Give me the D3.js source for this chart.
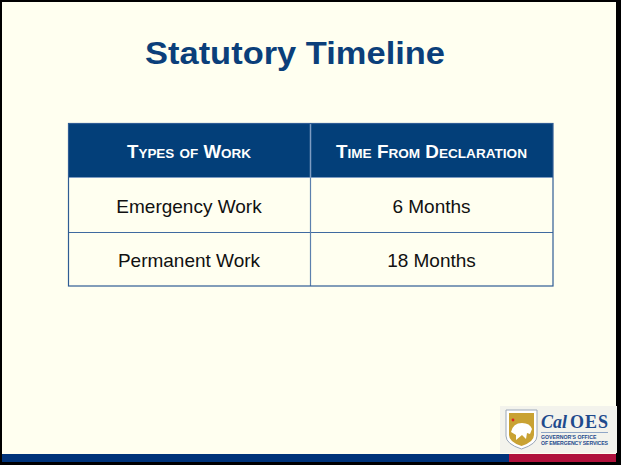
<!DOCTYPE html>
<html><head><meta charset="utf-8">
<script src="https://cdn.jsdelivr.net/npm/d3@7"></script>
<style>html,body{margin:0;padding:0;background:#fff;}svg{display:block;}</style>
</head><body>
<script>
const title = "Statutory Timeline";
const headers = ["Types of Work", "Time From Declaration"];
const workTypes = ["Emergency Work", "Permanent Work"];
const timeFromDeclaration = ["6 Months", "18 Months"];

const W = 621, H = 465;
const svg = d3.select("body").append("svg").attr("width", W).attr("height", H);

// frame & background
svg.append("rect").attr("x",0).attr("y",0).attr("width",W).attr("height",H).attr("fill","#000");
svg.append("rect").attr("x",2).attr("y",2).attr("width",614).attr("height",460).attr("fill","#FFFFF0");

// title
svg.append("text").attr("x",295).attr("y",64).attr("text-anchor","middle")
  .attr("font-family","'Liberation Sans',Arial,sans-serif").attr("font-weight","bold")
  .attr("font-size",31).attr("textLength",300).attr("lengthAdjust","spacingAndGlyphs")
  .attr("fill","#0B3F7A").text(title);

// table layout via scales
const x = d3.scaleBand().domain(d3.range(headers.length)).range([68,553]);
const colEdge = [68, 310.5, 553];
const centers = [189, 431.5];
const y = d3.scaleOrdinal().domain(["top","head","r1","bottom"]).range([123,177,232,286]);

const g = svg.append("g");
g.append("rect").attr("x",68).attr("y",y("top")).attr("width",485).attr("height",y("head")-y("top")).attr("fill","#033F79");
g.append("line").attr("x1",68).attr("x2",553).attr("y1",y("r1")+0.5).attr("y2",y("r1")+0.5).attr("stroke","#3F6AA0").attr("stroke-width",1);
g.append("line").attr("x1",colEdge[1]).attr("x2",colEdge[1]).attr("y1",y("top")).attr("y2",y("head")).attr("stroke","#7E9CC2").attr("stroke-width",1.5);
g.append("line").attr("x1",colEdge[1]).attr("x2",colEdge[1]).attr("y1",y("head")).attr("y2",y("bottom")).attr("stroke","#5C80AE").attr("stroke-width",1.2);
g.append("line").attr("x1",68).attr("x2",553).attr("y1",y("head")+0.5).attr("y2",y("head")+0.5).attr("stroke","#7E9CC2").attr("stroke-width",1);
g.append("rect").attr("x",68.5).attr("y",123.5).attr("width",484.5).attr("height",162.5)
  .attr("fill","none").attr("stroke","#2F5C94").attr("stroke-width",1.2);

const headLen = [124, 191];
g.selectAll("text.h").data(headers).enter().append("text").attr("class","h")
  .attr("x",(d,i)=>centers[i]).attr("y",158).attr("text-anchor","middle")
  .attr("font-family","'Liberation Sans',sans-serif").attr("font-weight","bold")
  .attr("font-size",18).attr("textLength",(d,i)=>headLen[i]).attr("lengthAdjust","spacingAndGlyphs")
  .attr("fill","#fff").style("font-variant","small-caps").text(d=>d);

const rows = workTypes.map((t,i)=>[t, timeFromDeclaration[i]]);
const rowBase = [213, 267];
rows.forEach((r,ri)=>{
  g.selectAll(null).data(r).enter().append("text")
    .attr("x",(d,i)=>centers[i]).attr("y",rowBase[ri]).attr("text-anchor","middle")
    .attr("font-family","'Liberation Sans',Arial,sans-serif").attr("font-size",19).attr("fill","#111").text(d=>d);
});

// bottom bar
svg.append("rect").attr("x",2).attr("y",454).attr("width",507).attr("height",8).attr("fill","#00337A");
svg.append("rect").attr("x",509).attr("y",454).attr("width",107).attr("height",8).attr("fill","#B0123C");

// logo
const lg = svg.append("g");
lg.append("rect").attr("x",500).attr("y",406).attr("width",117).attr("height",47).attr("fill","#F3F3EC");
lg.append("path").attr("d","M506,410 L537,410 L537,436 Q537,444 521.5,449 Q506,444 506,436 Z")
  .attr("fill","#fff").attr("stroke","#9AA6B8").attr("stroke-width",1);
lg.append("path").attr("d","M509,413 L534,413 L534,435 Q534,442 521.5,446 Q509,442 509,435 Z").attr("fill","#C9A233");
lg.append("path").attr("d","M511,432 Q513,423 522,423 Q530,423 532,429 L530,434 L527,433 L526,439 L522,435 L516,440 L516,435 Z").attr("fill","#fff");
lg.append("circle").attr("cx",513).attr("cy",420).attr("r",1.4).attr("fill","#d22");
lg.append("text").attr("x",541).attr("y",428).attr("font-family","'Liberation Serif',serif").attr("font-weight","bold")
  .attr("font-style","italic").attr("font-size",18).attr("fill","#1E4A8C").text("Cal");
lg.append("text").attr("x",570).attr("y",428).attr("font-family","'Liberation Serif',serif").attr("font-weight","bold")
  .attr("font-size",18).attr("textLength",38).attr("fill","#1E4A8C").text("OES");
lg.append("line").attr("x1",541).attr("x2",608).attr("y1",432.5).attr("y2",432.5).attr("stroke","#8FA6C6").attr("stroke-width",1);
lg.append("text").attr("x",541).attr("y",438.5).attr("font-family","'Liberation Sans',sans-serif").attr("font-weight","bold")
  .attr("font-size",5.2).attr("fill","#1E4A8C").text("GOVERNOR'S OFFICE");
lg.append("text").attr("x",541).attr("y",444.5).attr("font-family","'Liberation Sans',sans-serif").attr("font-weight","bold")
  .attr("font-size",5.2).attr("textLength",67).attr("fill","#1E4A8C").text("OF EMERGENCY SERVICES");
</script>
</body></html>
